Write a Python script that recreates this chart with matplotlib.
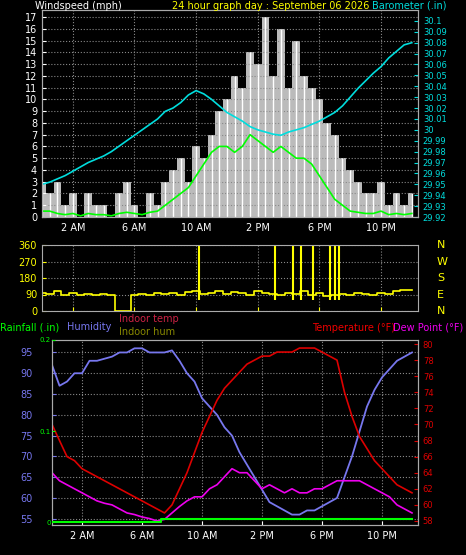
import numpy as np
import matplotlib.pyplot as plt

W, H = 466, 555

# --- data ---
hours = np.arange(0, 24.5, 0.5)
gust = [3, 2, 3, 1, 2, 0, 2, 1, 1, 0, 2, 3, 1, 0, 2, 1, 3, 4, 5, 3, 6, 5, 7, 9,
        10, 12, 11, 14, 13, 17, 12, 16, 11, 15, 12, 11, 10, 8, 7, 5, 4, 3, 2, 2, 3, 1, 2, 1, 2]
avg_wind = [0.5, 0.5, 0.3, 0.2, 0.3, 0.1, 0.3, 0.2, 0.2, 0.1, 0.3, 0.4, 0.3, 0.2, 0.4, 0.5, 1, 1.5, 2, 2.5, 3.5, 4.5, 5.5, 6,
            6, 5.5, 6, 7, 6.5, 6, 5.5, 6, 5.5, 5, 5, 4.5, 3.5, 2.5, 1.5, 1, 0.5, 0.4, 0.3, 0.3, 0.5, 0.2, 0.3, 0.2, 0.3]
baro = [29.95, 29.952, 29.955, 29.958, 29.962, 29.966, 29.970, 29.973, 29.976, 29.980, 29.985, 29.990, 29.995, 30.000,
        30.005, 30.010, 30.017, 30.020, 30.025, 30.032, 30.036, 30.033, 30.028, 30.022, 30.016, 30.012, 30.008, 30.003,
        30.000, 29.998, 29.996, 29.995, 29.998, 30.000, 30.002, 30.005, 30.008, 30.012, 30.016, 30.022, 30.030, 30.038,
        30.045, 30.052, 30.058, 30.066, 30.072, 30.078, 30.080]
wdir = [100, 95, 110, 90, 100, 85, 95, 90, 95, 90, 0, 0, 90, 95, 90, 100, 95, 100, 90, 105, 110, 95, 100, 110,
        95, 105, 100, 90, 110, 100, 95, 90, 100, 95, 110, 90, 100, 80, 90, 95, 90, 100, 95, 90, 100, 95, 110, 115, 115]
dir_spikes = [10.2, 15.1, 16.3, 16.8, 17.6, 18.7, 19.0, 19.3]

temp = [70, 68, 66, 65.5, 64.5, 64, 63.5, 63, 62.5, 62, 61.5, 61, 60.5, 60, 59.5, 59, 60, 62, 64, 66.5, 69, 71, 73, 74.5,
        75.5, 76.5, 77.5, 78, 78.5, 78.5, 79, 79, 79, 79.5, 79.5, 79.5, 79, 78.5, 78, 74, 71, 68.5, 67, 65.5, 64.5, 63.5, 62.5, 62, 61.5]
dew = [64, 63, 62.5, 62, 61.5, 61, 60.5, 60.2, 60, 59.5, 59, 58.8, 58.5, 58.3, 58, 58.2, 59, 59.8, 60.5, 61, 61, 62, 62.5, 63.5,
       64.5, 64, 64, 63, 62, 62.5, 62, 61.5, 62, 61.5, 61.5, 62, 62, 62.5, 63, 63, 63, 63, 62.5, 62, 61.5, 61, 60, 59.5, 59]
hum = [92, 87, 88, 90, 90, 93, 93, 93.5, 94, 95, 95, 96, 96, 95, 95, 95, 95.5, 93, 90, 88, 84, 82, 80, 77,
       75, 71, 68, 65, 62, 59, 58, 57, 56, 56, 57, 57, 58, 59, 60, 65, 70, 76, 82, 86, 89, 91, 93, 94, 95]
rain = [0] * 15 + [0.004] * 34

bg = 'black'
fig = plt.figure(figsize=(W / 100, H / 100), dpi=100, facecolor=bg)


def ax_px(x0, y0, x1, y1):
    return fig.add_axes([x0 / W, 1 - y1 / H, (x1 - x0) / W, (y1 - y0) / H], facecolor=bg)


def style(ax, lc):
    for s in ax.spines.values():
        s.set_color('#aaaaaa')
    ax.tick_params(colors=lc, labelsize=7, length=3, direction='in')
    ax.grid(True, color='#888888', linestyle=':', linewidth=0.8)


xt = [2, 6, 10, 14, 18, 22]
xl = ['2 AM', '6 AM', '10 AM', '2 PM', '6 PM', '10 PM']

# top panel
ax1 = ax_px(42, 10, 418, 217)
ax1.fill_between(hours, 0, gust, step='mid', color='#bbbbbb', linewidth=0)
ax1.vlines(hours, 0, gust, color='white', linewidth=1.0)
ax1.plot(hours, avg_wind, color='#00ff00', linewidth=1.2)
ax1.set_xlim(0, 24.4)
ax1.set_ylim(0, 17.6)
ax1.set_yticks(range(18))
ax1.set_xticks(xt)
ax1.set_xticklabels(xl, color='white', fontsize=9)
style(ax1, 'white')
ax1.tick_params(axis='x', pad=4)
b = ax1.twinx()
b.plot(hours, baro, color='#00dddd', linewidth=1.2)
b.set_ylim(29.92, 30.11)
bt = np.round(np.arange(29.92, 30.105, 0.01), 2)
b.set_yticks(bt)
b.set_yticklabels([f'{v:g}' for v in bt])
b.tick_params(colors='#00dddd', labelsize=6, length=3, direction='in')
for s in b.spines.values():
    s.set_color('#aaaaaa')
fig.text(35 / W, 1 - 6 / H, 'Windspeed (mph)', color='white', fontsize=7, va='center')
fig.text(172 / W, 1 - 6 / H, '24 hour graph day : September 06 2026', color='yellow', fontsize=7, va='center')
fig.text(372 / W, 1 - 6 / H, 'Barometer (.in)', color='#00dddd', fontsize=7, va='center')

# direction panel
ax2 = ax_px(42, 245, 418, 311)
ax2.plot(hours, wdir, color='yellow', linewidth=1.2, drawstyle='steps-mid')
ax2.vlines(dir_spikes, 60, 360, color='yellow', linewidth=1.5)
ax2.set_xlim(0, 24.4)
ax2.set_ylim(0, 360)
ax2.set_yticks([0, 90, 180, 270, 360])
ax2.set_xticks(xt)
ax2.set_xticklabels([])
style(ax2, 'yellow')
for lab, y in zip(['N', 'W', 'S', 'E', 'N'], [245, 262, 278, 295, 311]):
    fig.text(437 / W, 1 - y / H, lab, color='yellow', fontsize=8, va='center')

# bottom panel
ax3 = ax_px(52, 340, 418, 525)
ax3.plot(hours, hum, color='#7777ee', linewidth=1.3)
ax3.set_xlim(0, 24.4)
ax3.set_ylim(53.5, 98)
ax3.set_yticks([55, 60, 65, 70, 75, 80, 85, 90, 95])
ax3.set_xticks(xt)
ax3.set_xticklabels(xl, color='white', fontsize=9)
style(ax3, '#7777ee')
ax3.tick_params(axis='x', colors='white', pad=4)
ax3.tick_params(axis='y', pad=14)
t = ax3.twinx()
t.plot(hours, temp, color='#dd0000', linewidth=1.2)
t.plot(hours, dew, color='#ee00ee', linewidth=1.2)
t.set_ylim(57.5, 80.5)
t.set_yticks(range(58, 81, 2))
t.tick_params(colors='#dd0000', labelsize=6, length=3, direction='in')
for s in t.spines.values():
    s.set_color('#aaaaaa')
r = ax3.twinx()
r.plot(hours, rain, color='#00ff00', linewidth=1.5, drawstyle='steps-mid')
r.set_ylim(-0.003, 0.2)
r.yaxis.set_ticks_position('left')
r.set_yticks([0, 0.1, 0.2])
r.set_yticklabels(['0', '0.1', '0.2'])
r.tick_params(colors='#00ff00', labelsize=5, length=2, direction='in', pad=1)
for s in r.spines.values():
    s.set_visible(False)
fig.text(0, 1 - 327 / H, 'Rainfall (.in)', color='#00ff00', fontsize=7, va='center')
fig.text(67 / W, 1 - 327 / H, 'Humidity', color='#7777ee', fontsize=7, va='center')
fig.text(119 / W, 1 - 319 / H, 'Indoor temp', color='#cc2244', fontsize=7, va='center')
fig.text(119 / W, 1 - 332 / H, 'Indoor hum', color='#888800', fontsize=7, va='center')
fig.text(312 / W, 1 - 327 / H, 'Temperature (°F)', color='#ee0000', fontsize=7, va='center_baseline')
fig.text(393 / W, 1 - 327 / H, 'Dew Point (°F)', color='#ee00ee', fontsize=7, va='center_baseline')

fig.savefig('out.png', dpi=100, facecolor=bg)
